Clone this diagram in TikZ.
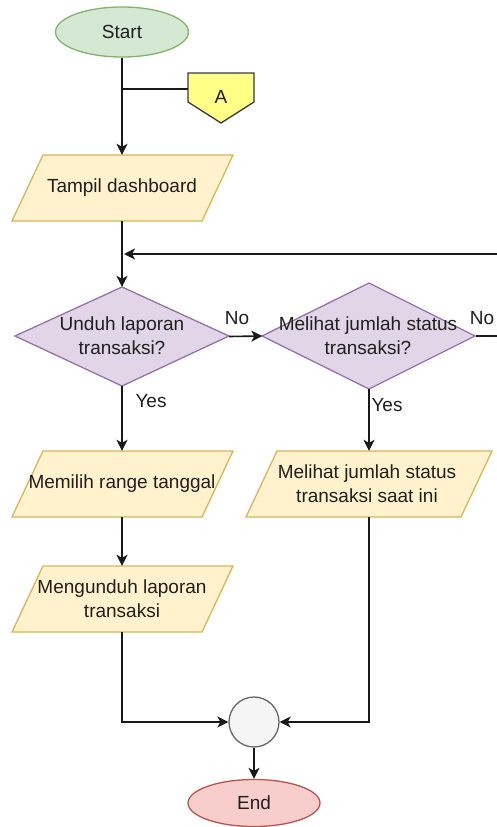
\documentclass[tikz,border=0pt]{standalone}
\usepackage{fontspec}
\setmainfont{Liberation Sans}
\usetikzlibrary{shapes.geometric,arrows.meta}
\definecolor{startfill}{HTML}{D5E8D4}
\definecolor{startline}{HTML}{82B366}
\definecolor{iofill}{HTML}{FFF2CC}
\definecolor{ioline}{HTML}{D6B656}
\definecolor{decfill}{HTML}{E1D5E7}
\definecolor{decline}{HTML}{9673A6}
\definecolor{offfill}{HTML}{FFFF88}
\definecolor{offline}{HTML}{36393D}
\definecolor{mergefill}{HTML}{F5F5F5}
\definecolor{mergeline}{HTML}{666666}
\definecolor{endfill}{HTML}{F8CECC}
\definecolor{endline}{HTML}{B85450}
\definecolor{txtc}{HTML}{1F1F1F}
\begin{document}
\begin{tikzpicture}[x=1pt,y=-1pt,
  txt/.style={align=center,font=\fontsize{19}{24}\selectfont,text=txtc,inner sep=0pt},
  anchorbox/.style={draw=none,inner sep=0pt,rectangle},
  term/.style={ellipse,inner sep=0pt,line width=1.3pt,txt},
  iobox/.style={draw=ioline,fill=iofill,line width=1.3pt},
  decbox/.style={draw=decline,fill=decfill,line width=1.3pt},
  conn/.style={draw=black!90,line width=1.6pt},
  arr/.style={conn,-{Stealth[length=11pt,width=11pt,inset=3pt]}}
]
\useasboundingbox (0,0) rectangle (497,827);
\clip (0,0) rectangle (497,827);

% Start
\node[term,draw=startline,fill=startfill,minimum width=133pt,minimum height=50pt] (start) at (122,32) {Start};

% Off-page connector A
\filldraw[draw=offline,fill=offfill,line width=1.3pt] (188,73) -- (254,73) -- (254,102) -- (221,123) -- (188,102) -- cycle;
\node[anchorbox,minimum width=66pt,minimum height=50pt] (A) at (221,98) {};
\node[txt] (Alabel) at (221,97) {A};

% Tampil dashboard
\filldraw[iobox] (43,155) -- (233,155) -- (202,221) -- (12,221) -- cycle;
\node[anchorbox,minimum width=221pt,minimum height=66pt] (tampil) at (122,188) {};
\node[txt] (tampiltxt) at (122,188) {Tampil dashboard};

% Decision 1
\filldraw[decbox] (122,287) -- (229,336) -- (122,386) -- (15,336) -- cycle;
\node[anchorbox,minimum width=214pt,minimum height=99pt] (d1) at (122,336.5) {};
\node[txt] (d1txt) at (122,336) {Unduh laporan\\transaksi?};

% Decision 2
\filldraw[decbox] (369,283) -- (475,336) -- (369,389) -- (262,336) -- cycle;
\node[anchorbox,minimum width=213pt,minimum height=106pt] (d2) at (369,336) {};
\node[txt] (d2txt) at (368,336) {Melihat jumlah status\\transaksi?};

% Memilih range tanggal
\filldraw[iobox] (43,451) -- (233,451) -- (202,517) -- (12,517) -- cycle;
\node[anchorbox,minimum width=221pt,minimum height=66pt] (memilih) at (122,484) {};
\node[txt] (memilihtxt) at (122,484) {Memilih range tanggal};

% Mengunduh laporan transaksi
\filldraw[iobox] (43,566) -- (233,566) -- (202,632) -- (12,632) -- cycle;
\node[anchorbox,minimum width=221pt,minimum height=66pt] (unduh) at (122,599) {};
\node[txt] (unduhtxt) at (122,599) {Mengunduh laporan\\transaksi};

% Melihat jumlah status transaksi saat ini
\filldraw[iobox] (277,451) -- (492,451) -- (461,517) -- (246,517) -- cycle;
\node[anchorbox,minimum width=246pt,minimum height=66pt] (lihat) at (369,484) {};
\node[txt] (lihattxt) at (367,484) {Melihat jumlah status\\transaksi saat ini};

% Merge circle
\node[circle,draw=mergeline,fill=mergefill,line width=1.3pt,minimum size=50pt,inner sep=0pt] (merge) at (254,722) {};

% End
\node[term,draw=endline,fill=endfill,minimum width=132pt,minimum height=47pt] (end) at (254,803) {End};

% Loop corner coordinates (beyond right edge)
\coordinate (loopA) at (515,336);
\coordinate (loopB) at (515,254);
\coordinate (loopC) at (124,254);

% Connectors
\draw[arr] (start.south) -- (tampil.north);
\draw[conn] (A.west |- 0,89) -- (start.south |- 0,89);
\draw[arr] (tampil.south) -- (d1.north);
\draw[arr] (loopB) -- (loopC);
\draw[arr] (d1.east) -- (d2.west);
\draw[conn] (d2.east) -- (loopA) -- (loopB);
\draw[arr] (d1.south) -- (memilih.north);
\draw[arr] (memilih.south) -- (unduh.north);
\draw[arr] (d2.south) -- (lihat.north);
\draw[arr] (unduh.south) |- (merge.west);
\draw[arr] (lihat.south) |- (merge.east);
\draw[arr] (merge.south) -- (end.north);

% Labels
\node[txt] (no1) at (237,318) {No};
\node[txt] (no2) at (482,318) {No};
\node[txt] (yes1) at (151,401) {Yes};
\node[txt] (yes2) at (387,405) {Yes};
\end{tikzpicture}
\end{document}
